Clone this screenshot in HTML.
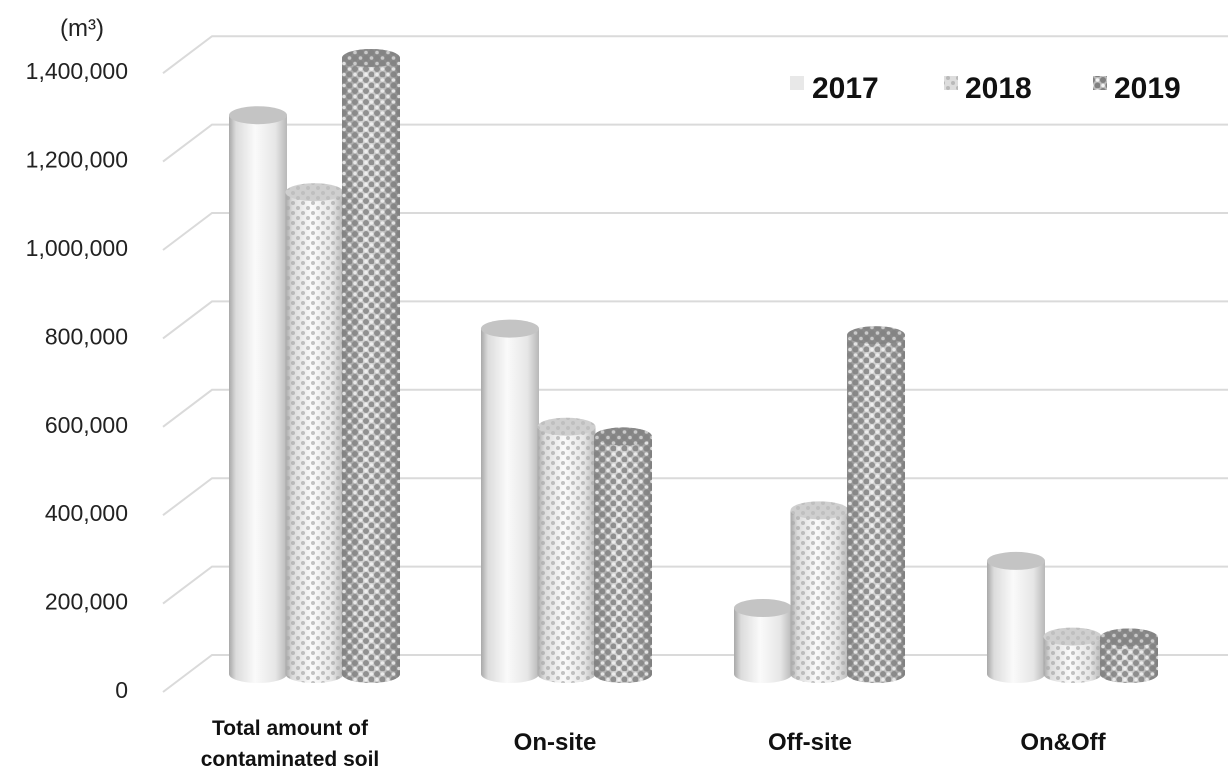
<!DOCTYPE html>
<html><head><meta charset="utf-8"><style>
body{margin:0;background:#fff;}
svg{display:block;font-family:"Liberation Sans","Noto Sans CJK KR",sans-serif;}
</style></head><body>
<svg width="1228" height="771" viewBox="0 0 1228 771">
<defs>
<linearGradient id="g1" x1="0" x2="1" y1="0" y2="0">
<stop offset="0" stop-color="#a8a8a8"/><stop offset="0.12" stop-color="#dcdcdc"/><stop offset="0.45" stop-color="#fafafa"/><stop offset="0.8" stop-color="#e6e6e6"/><stop offset="1" stop-color="#b8b8b8"/></linearGradient>
<linearGradient id="g3" x1="0" x2="1" y1="0" y2="0">
<stop offset="0" stop-color="#8a8a8a"/><stop offset="0.4" stop-color="#d8d8d8"/><stop offset="0.8" stop-color="#b8b8b8"/><stop offset="1" stop-color="#7e7e7e"/></linearGradient>
<pattern id="p2" width="10" height="10" patternUnits="userSpaceOnUse"><circle cx="3" cy="3" r="2" fill="#aaa" opacity=".7"/><circle cx="8" cy="8" r="2" fill="#aaa" opacity=".7"/></pattern>
<pattern id="p3" width="11" height="11" patternUnits="userSpaceOnUse"><circle cx="3" cy="3" r="3" fill="#808080"/><circle cx="8.5" cy="8.5" r="3" fill="#808080"/><circle cx="8.5" cy="3" r="1.8" fill="#f4f4f4"/><circle cx="3" cy="8.5" r="1.8" fill="#f4f4f4"/></pattern>
</defs>
<g stroke="#dadada" stroke-width="2" fill="none" id="grid"></g>
<g id="bars"></g>
<g font-size="23" fill="#222" text-anchor="end" id="ylab"></g>
<text x="60" y="36" font-size="24" fill="#222">(m³)</text>
<g font-size="30" font-weight="bold" fill="#111">
<rect x="790" y="76" width="14" height="14" fill="#e8e8e8"/><text x="812" y="98">2017</text>
<rect x="944" y="76" width="14" height="14" fill="#ddd"/><rect x="944" y="76" width="14" height="14" fill="url(#p2)"/><text x="965" y="98">2018</text>
<rect x="1093" y="76" width="14" height="14" fill="#bbb"/><rect x="1093" y="76" width="14" height="14" fill="url(#p3)"/><text x="1114" y="98">2019</text>
</g>
<g font-size="24" font-weight="bold" fill="#111" text-anchor="middle">
<text x="290" y="735" font-size="21">Total amount of</text>
<text x="290" y="766" font-size="21">contaminated soil</text>
<text x="555" y="750">On-site</text>
<text x="810" y="750">Off-site</text>
<text x="1063" y="750">On&amp;Off</text>
</g>
</svg>
<script>
const ns="http://www.w3.org/2000/svg";
function el(p,t,a){const e=document.createElementNS(ns,t);for(const k in a)e.setAttribute(k,a[k]);p.appendChild(e);return e;}
const grid=document.getElementById('grid'),yl=document.getElementById('ylab'),bars=document.getElementById('bars');
const labs=["0","200,000","400,000","600,000","800,000","1,000,000","1,200,000","1,400,000"];
for(let i=0;i<8;i++){const y=655-i*88.4;el(grid,'path',{d:`M163 ${y+37} L212 ${y} L1228 ${y}`});
const t=el(yl,'text',{x:128,y:y+43});t.textContent=labs[i];}
const base=674,sc=440/1e6,w=58,ry=9;
const groups=[[229,[1270000,1095000,1400000]],[481,[785000,562000,540000]],[734,[150000,372000,770000]],[987,[257000,85000,83000]]];
groups.forEach(([x0,vals])=>{vals.forEach((v,j)=>{const x=x0+j*56.5,top=base-v*sc;
const d=`M${x} ${top} L${x} ${base} A${w/2} ${ry} 0 0 0 ${x+w} ${base} L${x+w} ${top} Z`;
const fill=j==2?'url(#g3)':'url(#g1)';
el(bars,'path',{d,fill});
if(j==1)el(bars,'path',{d,fill:'url(#p2)'});
if(j==2)el(bars,'path',{d,fill:'url(#p3)',opacity:.8});
el(bars,'ellipse',{cx:x+w/2,cy:top,rx:w/2,ry:ry,fill:j==2?'#8a8a8a':(j==1?'#cfcfcf':'#c4c4c4')});
if(j>0)el(bars,'ellipse',{cx:x+w/2,cy:top,rx:w/2,ry:ry,fill:j==2?'url(#p3)':'url(#p2)',opacity:.6});
});});
</script>
</body></html>
